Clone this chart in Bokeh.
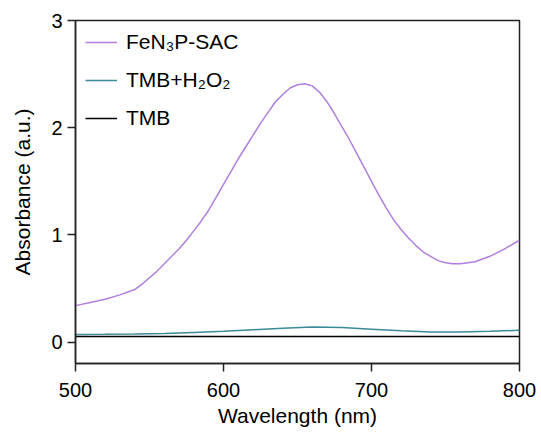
from bokeh.plotting import figure
from bokeh.models import Range1d, FixedTicker, Legend, LegendItem
from bokeh.embed import file_html
from bokeh.resources import INLINE

# ---- data ----
wl_sac = [500, 510, 520, 530, 540, 545, 550, 555, 560, 565, 570, 575, 580, 585,
          590, 595, 600, 605, 610, 615, 620, 625, 630, 635, 640, 645, 650, 655,
          660, 665, 670, 675, 680, 685, 690, 695, 700, 705, 710, 715, 720, 725,
          730, 735, 740, 745, 750, 755, 760, 765, 770, 780, 790, 800]
abs_sac = [0.34, 0.37, 0.40, 0.44, 0.49, 0.54, 0.60, 0.66, 0.73, 0.80, 0.87, 0.95,
           1.04, 1.13, 1.23, 1.35, 1.47, 1.59, 1.71, 1.82, 1.93, 2.04, 2.14, 2.24,
           2.31, 2.37, 2.40, 2.41, 2.39, 2.33, 2.24, 2.13, 2.01, 1.89, 1.76, 1.63,
           1.50, 1.37, 1.25, 1.14, 1.05, 0.97, 0.90, 0.84, 0.80, 0.76, 0.74, 0.73,
           0.73, 0.74, 0.75, 0.80, 0.87, 0.95]

wl_h2o2 = [500, 520, 540, 560, 580, 600, 620, 640, 660, 680, 700, 720, 740, 760,
           780, 800]
abs_h2o2 = [0.070, 0.072, 0.075, 0.080, 0.090, 0.100, 0.115, 0.130, 0.140, 0.135,
            0.120, 0.105, 0.095, 0.093, 0.100, 0.110]

wl_tmb = [500, 600, 700, 800]
abs_tmb = [0.052, 0.052, 0.052, 0.052]

labels = ["FeN\u2083P-SAC", "TMB+H\u2082O\u2082", "TMB"]
colors = ["#b07fe0", "#3a8b97", "#000000"]

x_ticks = [500, 600, 700, 800]
y_ticks = [0, 1, 2, 3]

FONT = "Liberation Sans"

p = figure(width=541, height=432, output_backend="svg", toolbar_location=None,
           x_range=Range1d(500, 800), y_range=Range1d(-0.2, 3),
           min_border_left=75, min_border_right=22, min_border_top=20,
           min_border_bottom=69)

r1 = p.line(wl_sac, abs_sac, line_color=colors[0], line_width=1.5)
r2 = p.line(wl_h2o2, abs_h2o2, line_color=colors[1], line_width=1.5)
r3 = p.line(wl_tmb, abs_tmb, line_color=colors[2], line_width=1.5)

p.grid.visible = False
p.outline_line_color = "#222222"
p.outline_line_width = 1.5
p.background_fill_color = "white"
p.border_fill_color = "white"

for ax in (p.xaxis[0], p.yaxis[0]):
    ax.axis_line_color = "#222222"
    ax.axis_line_width = 1.5
    ax.major_tick_line_color = "#222222"
    ax.major_tick_line_width = 1.5
    ax.major_tick_in = 0
    ax.major_tick_out = 8
    ax.minor_tick_line_color = None
    ax.major_label_text_font = FONT
    ax.major_label_text_font_size = "20px"
    ax.major_label_text_color = "black"
    ax.axis_label_text_font = FONT
    ax.axis_label_text_font_size = "21px"
    ax.axis_label_text_font_style = "normal"
    ax.axis_label_text_color = "black"

p.xaxis[0].ticker = FixedTicker(ticks=x_ticks)
p.yaxis[0].ticker = FixedTicker(ticks=y_ticks)
p.xaxis[0].axis_label = "Wavelength (nm)"
p.yaxis[0].axis_label = "Absorbance (a.u.)"
p.xaxis[0].major_label_standoff = 11
p.yaxis[0].major_label_standoff = 5
p.xaxis[0].axis_label_standoff = 4
p.yaxis[0].axis_label_standoff = 14

legend = Legend(items=[LegendItem(label=labels[0], renderers=[r1]),
                       LegendItem(label=labels[1], renderers=[r2]),
                       LegendItem(label=labels[2], renderers=[r3])],
                location="top_left")
legend.border_line_color = None
legend.background_fill_alpha = 0
legend.margin = 10
legend.padding = 0
legend.spacing = 14
legend.glyph_width = 32
legend.glyph_height = 20
legend.label_height = 20
legend.label_standoff = 9
legend.label_text_font = FONT
legend.label_text_font_size = "21px"
legend.label_text_color = "black"
p.add_layout(legend)

open("out.html", "w").write(file_html(p, INLINE))
